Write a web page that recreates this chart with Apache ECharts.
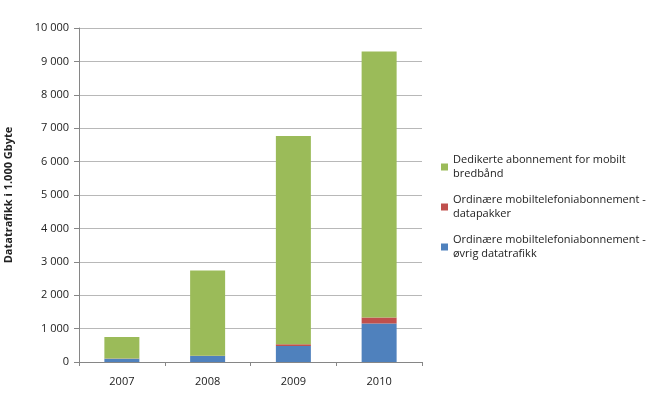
<!DOCTYPE html>
<html><head><meta charset="utf-8">
<script src="https://cdn.jsdelivr.net/npm/echarts@6/dist/echarts.min.js"></script>
<style>html,body{margin:0;padding:0;background:#fff}#c{width:664px;height:394px}</style>
</head><body><div id="c"></div>
<script>
const categories = ['2007', '2008', '2009', '2010'];
const blueValues = [100, 180, 480, 1150];
const redValues = [5, 10, 50, 180];
const greenValues = [645, 2550, 6240, 7970];
const seriesNames = [
  'Ordinære mobiltelefoniabonnement - øvrig datatrafikk',
  'Ordinære mobiltelefoniabonnement - datapakker',
  'Dedikerte abonnement for mobilt bredbånd'
];
const legendLabels = {
  'Dedikerte abonnement for mobilt bredbånd': 'Dedikerte abonnement for mobilt\nbredbånd',
  'Ordinære mobiltelefoniabonnement - datapakker': 'Ordinære mobiltelefoniabonnement -\ndatapakker',
  'Ordinære mobiltelefoniabonnement - øvrig datatrafikk': 'Ordinære mobiltelefoniabonnement -\nøvrig datatrafikk'
};
const font = 'Open Sans';
const chart = echarts.init(document.getElementById('c'));
chart.setOption({
  animation: false,
  textStyle: { fontFamily: font },
  grid: { left: 79, right: 242, top: 28, bottom: 32, show: false, outerBoundsMode: 'none', containLabel: false },
  legend: {
    orient: 'vertical', left: 436, top: 148,
    itemWidth: 7, itemHeight: 7, itemGap: 12,
    icon: 'rect',
    data: [seriesNames[2], seriesNames[1], seriesNames[0]],
    formatter: n => legendLabels[n],
    textStyle: { fontSize: 11, color: '#222', lineHeight: 14, fontFamily: font }
  },
  xAxis: {
    type: 'category', data: categories,
    axisLine: { lineStyle: { color: '#868686' } },
    axisTick: { show: true, length: 4, lineStyle: { color: '#868686' } },
    splitLine: { show: false },
    axisLabel: { fontSize: 11, color: '#222', margin: 14 }
  },
  yAxis: {
    type: 'value', min: 0, max: 10000, interval: 1000,
    name: 'Datatrafikk i 1.000 Gbyte', nameLocation: 'middle', nameGap: 65,
    nameTextStyle: { fontSize: 11, fontWeight: 'bold', color: '#222' },
    axisLine: { show: true, lineStyle: { color: '#868686' } },
    axisTick: { show: true, length: 5, lineStyle: { color: '#868686' } },
    splitLine: { lineStyle: { color: '#b8b8b8', width: 1 } },
    axisLabel: { fontSize: 11, color: '#222', margin: 10,
      formatter: v => String(v).replace(/\B(?=(\d{3})+(?!\d))/g, ' ') }
  },
  series: [
    { name: seriesNames[0], type: 'bar', stack: 's', data: blueValues, barWidth: 35, itemStyle: { color: '#4F81BD' } },
    { name: seriesNames[1], type: 'bar', stack: 's', data: redValues, itemStyle: { color: '#C0504D' } },
    { name: seriesNames[2], type: 'bar', stack: 's', data: greenValues, itemStyle: { color: '#9BBB59' } }
  ]
});
</script></body></html>
